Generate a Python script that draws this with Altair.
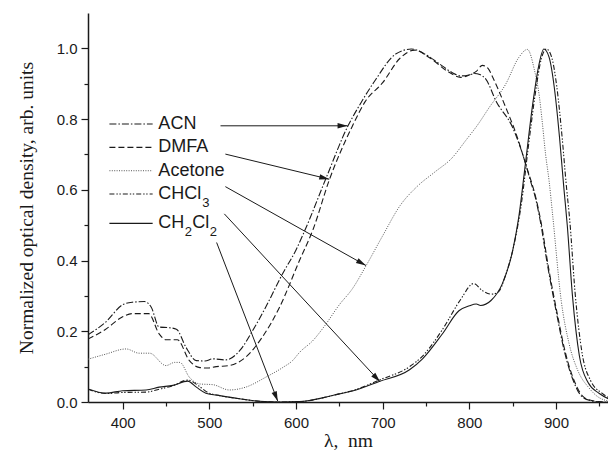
import math
import altair as alt
import pandas as pd

# ---------------- data ----------------
ACN_x = [360, 380, 400, 411, 425, 433, 442, 454, 462, 473, 485, 495, 504, 519, 535, 550, 565, 585, 600, 610, 635, 660, 673, 692, 715, 733, 750, 765, 780, 790, 800, 806, 812, 819, 831, 850, 865, 870, 877, 882, 890, 900, 910, 920, 930, 940, 955, 967]
ACN_y = [0.19, 0.225, 0.275, 0.282, 0.284, 0.268, 0.212, 0.21, 0.206, 0.155, 0.117, 0.116, 0.122, 0.119, 0.145, 0.202, 0.268, 0.365, 0.43, 0.484, 0.635, 0.781, 0.838, 0.912, 0.984, 0.998, 0.982, 0.957, 0.932, 0.922, 0.925, 0.929, 0.926, 0.913, 0.85, 0.776, 0.673, 0.63, 0.57, 0.51, 0.39, 0.259, 0.14, 0.06, 0.015, 0.004, 0.0, 0.0]

DMFA_x = [360, 380, 400, 411, 430, 442, 450, 463, 477, 488, 498, 508, 523, 542, 561, 581, 604, 620, 638, 665, 680, 700, 720, 737, 755, 775, 790, 800, 808, 815, 822, 827, 842, 854, 866, 877, 883, 891, 901, 911, 921, 931, 941, 955, 967]
DMFA_y = [0.178, 0.205, 0.241, 0.25, 0.25, 0.193, 0.176, 0.176, 0.117, 0.098, 0.096, 0.1, 0.103, 0.127, 0.183, 0.268, 0.40, 0.49, 0.625, 0.78, 0.85, 0.903, 0.972, 0.995, 0.972, 0.935, 0.918, 0.925, 0.935, 0.952, 0.942, 0.918, 0.833, 0.758, 0.665, 0.575, 0.505, 0.385, 0.255, 0.138, 0.06, 0.016, 0.004, 0.0, 0.0]

ACE_x = [360, 380, 404, 419, 431, 450, 460, 466, 477, 489, 504, 523, 542, 565, 585, 596, 604, 620, 633, 650, 665, 681, 700, 720, 740, 760, 780, 796, 810, 823, 842, 857, 867, 875, 881, 884, 888, 892, 896, 906, 915, 925, 938, 950, 967]
ACE_y = [0.121, 0.135, 0.150, 0.138, 0.138, 0.103, 0.112, 0.112, 0.07, 0.051, 0.049, 0.034, 0.042, 0.07, 0.098, 0.117, 0.14, 0.175, 0.215, 0.275, 0.32, 0.386, 0.47, 0.555, 0.61, 0.65, 0.69, 0.74, 0.785, 0.833, 0.899, 0.974, 0.997, 0.94, 0.86, 0.795, 0.70, 0.626, 0.532, 0.287, 0.166, 0.09, 0.04, 0.012, 0.0]

CHCL3_x = [360, 381, 400, 427, 442, 458, 475, 488, 498, 512, 535, 558, 581, 604, 635, 650, 665, 696, 731, 746, 769, 790, 805, 815, 825, 833, 842, 852, 860, 868, 876, 883, 889, 895, 901, 907, 912, 916, 922, 930, 940, 953, 967]
CHCL3_y = [0.036, 0.024, 0.027, 0.028, 0.036, 0.046, 0.062, 0.045, 0.027, 0.018, 0.009, 0.002, 0.0, 0.001, 0.014, 0.023, 0.032, 0.062, 0.1, 0.13, 0.205, 0.29, 0.335, 0.315, 0.305, 0.31, 0.36, 0.45, 0.56, 0.72, 0.87, 0.97, 0.998, 0.975, 0.89, 0.75, 0.61, 0.51, 0.31, 0.14, 0.06, 0.025, 0.005]

CH2CL2_x = [360, 381, 400, 427, 442, 458, 475, 485, 496, 512, 535, 558, 581, 604, 635, 650, 665, 696, 731, 746, 769, 788, 800, 808, 813, 825, 838, 850, 857, 865, 873, 880, 886, 892, 898, 904, 909, 913, 919, 927, 937, 950, 965]
CH2CL2_y = [0.037, 0.025, 0.032, 0.034, 0.042, 0.047, 0.059, 0.042, 0.025, 0.018, 0.009, 0.002, 0.0, 0.001, 0.014, 0.023, 0.031, 0.058, 0.091, 0.122, 0.193, 0.258, 0.272, 0.277, 0.273, 0.287, 0.334, 0.428, 0.522, 0.68, 0.84, 0.95, 0.998, 0.975, 0.89, 0.75, 0.607, 0.50, 0.30, 0.13, 0.055, 0.024, 0.004]

series_names = ["ACN", "DMFA", "Acetone", "CHCl3", "CH2Cl2"]
series_x = [ACN_x, DMFA_x, ACE_x, CHCL3_x, CH2CL2_x]
series_y = [ACN_y, DMFA_y, ACE_y, CHCL3_y, CH2CL2_y]

# legend rows (data coordinates)
legend_y = [0.786, 0.72, 0.654, 0.588, 0.505]
legend_sample_x = [384.7, 434.6]
legend_text_x = 441.2

# arrows: start (near label) -> end (on curve)
arrow_x1 = [512.9, 518.5, 518.5, 517.3, 508.4]
arrow_y1 = [0.781, 0.701, 0.609, 0.532, 0.451]
arrow_x2 = [659.5, 638.4, 680.7, 697.0, 579.0]
arrow_y2 = [0.781, 0.630, 0.386, 0.057, 0.002]

x_ticks = [400, 500, 600, 700, 800, 900]
x_minor = [450, 550, 650, 750, 850, 950]
y_ticks = [0.0, 0.2, 0.4, 0.6, 0.8, 1.0]
y_minor = [0.1, 0.3, 0.5, 0.7, 0.9]

# ---------------- styles ----------------
W, H = 520, 389
XD = [360, 960]
YD = [0, 1.1]
INK = "#1a1a1a"
styles = {
    "ACN": dict(strokeDash=[7, 2, 1.5, 2], color=INK, strokeWidth=1.1),
    "DMFA": dict(strokeDash=[6, 3], color=INK, strokeWidth=1.1),
    "Acetone": dict(strokeDash=[1, 1.4], color="#555555", strokeWidth=1.0),
    "CHCl3": dict(strokeDash=[5, 2, 1.4, 1.6, 1.4, 2], color=INK, strokeWidth=1.1),
    "CH2Cl2": dict(color=INK, strokeWidth=1.1),
}

xs = alt.Scale(domain=XD, nice=False, zero=False)
ys = alt.Scale(domain=YD, nice=False, zero=False)

axis_common = dict(domainColor=INK, tickColor=INK, labelColor=INK, grid=False,
                   labelFont="Liberation Sans", labelFontSize=15,
                   titleFont="Liberation Serif", titleFontSize=19.5,
                   titleFontWeight="normal", titleColor=INK,
                   domainWidth=1.5, tickWidth=1.2)

layers = []
for i, (name, xv, yv) in enumerate(zip(series_names, series_x, series_y)):
    df = pd.DataFrame({"wl": xv, "od": yv})
    enc_x = alt.X("wl:Q", scale=xs,
                  axis=alt.Axis(values=x_ticks, tickSize=7, labelPadding=6, title="λ,\u00a0\u00a0nm",
                                titlePadding=1, orient="bottom", **axis_common) if i == 0 else None)
    enc_y = alt.Y("od:Q", scale=ys,
                  axis=alt.Axis(values=y_ticks, format=".1f", tickSize=7, labelPadding=4,
                                title="Normalized optical density, arb. units",
                                titlePadding=20, orient="left", **axis_common) if i == 0 else None)
    layers.append(alt.Chart(df).mark_line(interpolate="monotone", clip=True, **styles[name])
                  .encode(x=enc_x, y=enc_y))

# minor ticks as extra axes
minor_df = pd.DataFrame({"wl": [XD[0]], "od": [0.0]})
minor = alt.Chart(minor_df).mark_point(opacity=0).encode(
    x=alt.X("wl:Q", scale=xs, axis=alt.Axis(values=x_minor, labels=False, tickSize=4, title=None,
                                            domain=False, orient="bottom", tickColor=INK, tickWidth=1.2, grid=False)),
    y=alt.Y("od:Q", scale=ys, axis=alt.Axis(values=y_minor, labels=False, tickSize=4, title=None,
                                            domain=False, orient="left", tickColor=INK, tickWidth=1.2, grid=False)),
)

# legend samples
for name, ly in zip(series_names, legend_y):
    d = pd.DataFrame({"x1": [legend_sample_x[0]], "x2": [legend_sample_x[1]], "y": [ly]})
    st = dict(styles[name])
    layers.append(alt.Chart(d).mark_rule(**st).encode(
        x=alt.X("x1:Q", scale=xs, axis=None), x2="x2:Q", y=alt.Y("y:Q", scale=ys, axis=None)))

# legend texts (with subscripts)
txt = pd.DataFrame({
    "t": ["ACN", "DMFA", "Acetone", "CHCl", "CH", "Cl"],
    "x": [legend_text_x] * 6,
    "y": [legend_y[0], legend_y[1], legend_y[2], legend_y[3], legend_y[4], legend_y[4]],
    "dx": [0, 0, 0, 0, 0, 34],
})
for _, r in txt.iterrows():
    layers.append(alt.Chart(pd.DataFrame([r])).mark_text(
        align="left", baseline="middle", fontSize=18, font="Liberation Sans", color=INK, dx=float(r["dx"])
    ).encode(x=alt.X("x:Q", scale=xs, axis=None), y=alt.Y("y:Q", scale=ys, axis=None), text="t:N"))

subs = [("3", legend_y[3], 44.0), ("2", legend_y[4], 26.5), ("2", legend_y[4], 51.5)]
for s, sy, sdx in subs:
    d = pd.DataFrame({"t": [s], "x": [legend_text_x], "y": [sy]})
    layers.append(alt.Chart(d).mark_text(
        align="left", baseline="middle", fontSize=13, font="Liberation Sans", color=INK, dx=sdx, dy=9
    ).encode(x=alt.X("x:Q", scale=xs, axis=None), y=alt.Y("y:Q", scale=ys, axis=None), text="t:N"))

# arrows
adf = pd.DataFrame({"x1": arrow_x1, "y1": arrow_y1, "x2": arrow_x2, "y2": arrow_y2})
layers.append(alt.Chart(adf).mark_rule(color=INK, strokeWidth=1.0).encode(
    x=alt.X("x1:Q", scale=xs, axis=None), y=alt.Y("y1:Q", scale=ys, axis=None), x2="x2:Q", y2="y2:Q"))

pxn = W / (XD[1] - XD[0])
pyu = H / (YD[1] - YD[0])
angles = []
for a, b, c, d in zip(arrow_x1, arrow_y1, arrow_x2, arrow_y2):
    dxp = (c - a) * pxn
    dyp = -(d - b) * pyu
    angles.append(math.degrees(math.atan2(dyp, dxp)) % 360)
hdf = pd.DataFrame({"x": arrow_x2, "y": arrow_y2, "ang": angles})
layers.append(alt.Chart(hdf).mark_point(
    shape="M0,0L-2,-0.55L-2,0.55Z", filled=True, color=INK, opacity=1, size=100, strokeWidth=0
).encode(x=alt.X("x:Q", scale=xs, axis=None), y=alt.Y("y:Q", scale=ys, axis=None),
         angle=alt.Angle("ang:Q", scale=None)))

chart = alt.layer(minor, *layers).resolve_axis(x="independent", y="independent").properties(
    width=W, height=H,
    autosize=alt.AutoSizeParams(type="none"),
    padding={"left": 80, "top": 5, "right": 0, "bottom": 51},
    background="white",
).configure_view(stroke=None)

chart.save("out.html", embed_options={"renderer": "svg", "actions": False})
